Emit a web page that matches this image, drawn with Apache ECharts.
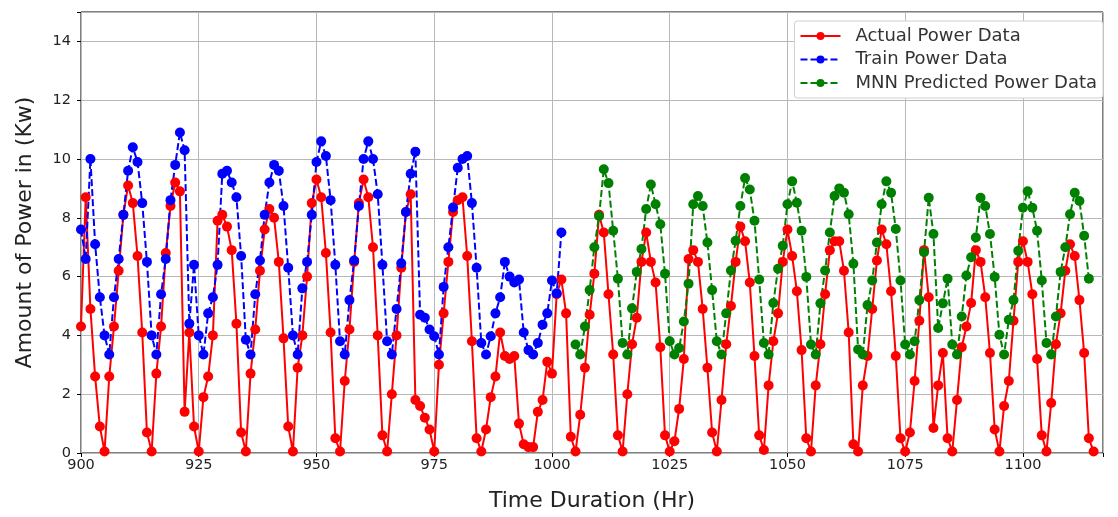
<!DOCTYPE html>
<html>
<head>
<meta charset="utf-8">
<script src="https://cdn.jsdelivr.net/npm/echarts@6/dist/echarts.min.js"></script>
<style>
html,body{margin:0;padding:0;background:#fff;}
#chart{width:1118px;height:517px;}
</style>
</head>
<body>
<div id="chart"></div>
<script>
// ---- data (hourly) ----
const actualStart = 900;
const actual = [
 4.3, 8.7, 4.9, 2.6, 0.9, 0.05, 2.6, 4.3, 6.2, 8.1,
 9.1, 8.5, 6.7, 4.1, 0.7, 0.05, 2.7, 4.3, 6.8, 8.4,
 9.2, 8.9, 1.4, 4.1, 0.9, 0.05, 1.9, 2.6, 4.0, 7.9,
 8.1, 7.7, 6.9, 4.4, 0.7, 0.05, 2.7, 4.2, 6.2, 7.6,
 8.3, 8.0, 6.5, 3.9, 0.9, 0.05, 2.9, 4.0, 6.0, 8.5,
 9.3, 8.7, 6.8, 4.1, 0.5, 0.05, 2.45, 4.2, 6.5, 8.5,
 9.3, 8.7, 7.0, 4.0, 0.6, 0.05, 2.0, 4.0, 6.3, 8.2,
 8.8, 1.8, 1.6, 1.2, 0.8, 0.05, 3.0, 4.75, 6.5, 8.2,
 8.6, 8.7, 6.7, 3.8, 0.5, 0.05, 0.8, 1.9, 2.6, 4.1,
 3.3, 3.2, 3.3, 1.0, 0.3, 0.2, 0.2, 1.4, 1.8, 3.1,
 2.7, 5.4, 5.9, 4.75, 0.55, 0.05, 1.3, 2.9, 4.7, 6.1,
 8.1, 7.5, 5.4, 3.35, 0.6, 0.05, 2.0, 3.7, 4.6, 6.5,
 7.5, 6.5, 5.8, 3.6, 0.6, 0.05, 0.4, 1.5, 3.2, 6.6,
 6.9, 6.5, 4.9, 2.9, 0.7, 0.05, 1.8, 3.7, 5.0, 6.5,
 7.7, 7.2, 5.8, 3.3, 0.6, 0.1, 2.3, 3.8, 4.75, 6.5,
 7.6, 6.7, 5.5, 3.5, 0.5, 0.05, 2.3, 3.7, 5.4, 6.9,
 7.2, 7.2, 6.2, 4.1, 0.3, 0.05, 2.3, 3.3, 4.9, 6.55,
 7.6, 7.1, 5.5, 3.3, 0.5, 0.05, 0.7, 2.45, 4.5, 6.9,
 5.3, 0.85, 2.3, 3.4, 0.5, 0.05, 1.8, 3.6, 4.3, 5.1,
 6.9, 6.5, 5.3, 3.4, 0.8, 0.05, 1.6, 2.45, 4.5, 6.5,
 7.2, 6.5, 5.4, 3.2, 0.6, 0.05, 1.7, 3.7, 4.75, 6.2,
 7.1, 6.7, 5.2, 3.4, 0.5, 0.05
];
const trainStart = 900;
const train = [
 7.6, 6.6, 10.0, 7.1, 5.3, 4.0, 3.35, 5.3, 6.6, 8.1,
 9.6, 10.4, 9.9, 8.5, 6.5, 4.0, 3.35, 5.4, 6.6, 8.6,
 9.8, 10.9, 10.3, 4.4, 6.4, 4.0, 3.35, 4.75, 5.3, 6.4,
 9.5, 9.6, 9.2, 8.7, 6.7, 3.85, 3.35, 5.4, 6.55, 8.1,
 9.2, 9.8, 9.6, 8.4, 6.3, 4.0, 3.35, 5.6, 6.5, 8.1,
 9.9, 10.6, 10.1, 8.6, 6.4, 3.8, 3.35, 5.2, 6.55, 8.4,
 10.0, 10.6, 10.0, 8.8, 6.4, 3.8, 3.35, 4.9, 6.45, 8.2,
 9.5, 10.25, 4.7, 4.6, 4.2, 3.97, 3.35, 5.65, 7.0, 8.35,
 9.7, 10.0, 10.1, 8.5, 6.3, 3.74, 3.35, 3.97, 4.75, 5.3,
 6.5, 6.0, 5.8, 5.9, 4.1, 3.5, 3.35, 3.74, 4.36, 4.75,
 5.87, 5.43, 7.5
];
const predStart = 1005;
const predicted = [
 3.69, 3.35, 4.3, 5.54, 7.0, 8.06, 9.65, 9.18, 7.56, 5.93,
 3.74, 3.35, 4.92, 6.16, 6.94, 8.3, 9.13, 8.46, 7.78, 6.1,
 3.8, 3.35, 3.57, 4.47, 5.76, 8.46, 8.74, 8.4, 7.16, 5.54,
 3.8, 3.35, 4.75, 6.21, 7.22, 8.4, 9.35, 8.96, 7.9, 5.9,
 3.74, 3.35, 5.1, 6.27, 7.05, 8.46, 9.24, 8.51, 7.56, 5.99,
 3.69, 3.35, 5.09, 6.21, 7.5, 8.74, 9.0, 8.85, 8.12, 6.44,
 3.52, 3.35, 5.03, 5.87, 7.16, 8.46, 9.24, 8.85, 7.62, 5.87,
 3.69, 3.35, 3.8, 5.2, 6.83, 8.68, 7.45, 4.25, 5.09, 5.93,
 3.69, 3.35, 4.64, 6.04, 6.66, 7.33, 8.68, 8.4, 7.45, 5.99,
 4.02, 3.35, 4.53, 5.2, 6.88, 8.34, 8.9, 8.34, 7.56, 5.87,
 3.74, 3.35, 4.64, 6.16, 7.0, 8.12, 8.85, 8.57, 7.39, 5.93
];
const xTicks = [900, 925, 950, 975, 1000, 1025, 1050, 1075, 1100];
const yTicks = [0, 2, 4, 6, 8, 10, 12, 14];
const seriesNames = ['Actual Power Data', 'Train Power Data', 'MNN Predicted Power Data'];

function pairs(start, arr) { return arr.map((v, i) => [start + i, v]); }

const chart = echarts.init(document.getElementById('chart'), null, {renderer: 'canvas'});
const FONT = 'DejaVu Sans';
chart.setOption({
  animation: false,
  backgroundColor: '#fff',
  textStyle: {fontFamily: FONT},
  grid: {left: 81, right: 15, top: 12, bottom: 58, show: true, borderColor: '#000', borderWidth: 1, backgroundColor: 'rgba(0,0,0,0)'},
  legend: {
    data: seriesNames,
    orient: 'vertical',
    right: 15, top: 21,
    backgroundColor: '#fff',
    borderColor: '#d0d0d0', borderWidth: 1, borderRadius: 3,
    padding: [6, 6, 6, 5],
    itemWidth: 40, itemHeight: 10, itemGap: 5.5,
    textStyle: {fontFamily: FONT, fontSize: 18, color: '#333', padding: [0, 0, 0, 10]}
  },
  xAxis: {
    type: 'value', min: 900, max: 1117, interval: 25,
    name: 'Time Duration (Hr)', nameLocation: 'middle', nameGap: 37,
    nameTextStyle: {fontFamily: FONT, fontSize: 22, color: '#222'},
    axisLine: {show: false},
    axisTick: {show: true, length: 4, lineStyle: {color: '#000'}},
    axisLabel: {fontFamily: FONT, fontSize: 14.5, color: '#222', margin: 5,
      formatter: v => xTicks.indexOf(v) >= 0 ? String(v) : ''},
    splitLine: {show: true, lineStyle: {color: '#b8b8b8', width: 1}}
  },
  yAxis: {
    type: 'value', min: 0, max: 15, interval: 2,
    name: 'Amount of Power in (Kw)', nameLocation: 'middle', nameGap: 45,
    nameTextStyle: {fontFamily: FONT, fontSize: 22, color: '#222'},
    axisLine: {show: false},
    axisTick: {show: true, length: 4, lineStyle: {color: '#000'}},
    axisLabel: {fontFamily: FONT, fontSize: 14.5, color: '#222', margin: 10,
      formatter: v => yTicks.indexOf(v) >= 0 ? String(v) : ''},
    splitLine: {show: true, lineStyle: {color: '#b8b8b8', width: 1}}
  },
  series: [
    {
      name: seriesNames[0], type: 'line', data: pairs(actualStart, actual),
      symbol: 'circle', symbolSize: 10, showAllSymbol: true, clip: true,
      lineStyle: {color: '#ff0000', width: 2}, itemStyle: {color: '#ff0000'}
    },
    {
      name: seriesNames[1], type: 'line', data: pairs(trainStart, train),
      symbol: 'circle', symbolSize: 10, showAllSymbol: true, clip: true,
      lineStyle: {color: '#0000ff', width: 2, type: [7, 3]}, itemStyle: {color: '#0000ff'}
    },
    {
      name: seriesNames[2], type: 'line', data: pairs(predStart, predicted),
      symbol: 'circle', symbolSize: 10, showAllSymbol: true, clip: true,
      lineStyle: {color: '#008000', width: 2, type: [7, 3]}, itemStyle: {color: '#008000'}
    }
  ]
});
</script>
</body>
</html>
